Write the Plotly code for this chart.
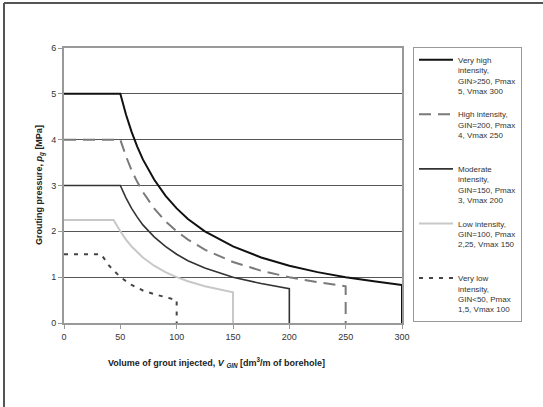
import plotly.graph_objects as go

# Data
v_very_high = [0, 50, 55, 60, 65, 70, 80, 90, 100, 110, 125, 150, 175, 200, 225, 250, 275, 300, 300]
p_very_high = [5, 5, 4.55, 4.17, 3.85, 3.57, 3.13, 2.78, 2.5, 2.27, 2.0, 1.67, 1.43, 1.25, 1.11, 1.0, 0.91, 0.83, 0]

v_high = [0, 50, 55, 60, 65, 70, 80, 90, 100, 110, 125, 150, 175, 200, 225, 250, 250]
p_high = [4, 4, 3.64, 3.33, 3.08, 2.86, 2.5, 2.22, 2.0, 1.82, 1.6, 1.33, 1.14, 1.0, 0.89, 0.8, 0]

v_moderate = [0, 50, 55, 60, 65, 70, 80, 90, 100, 110, 125, 150, 175, 200, 200]
p_moderate = [3, 3, 2.73, 2.5, 2.31, 2.14, 1.88, 1.67, 1.5, 1.36, 1.2, 1.0, 0.86, 0.75, 0]

v_low = [0, 44, 50, 55, 60, 65, 70, 80, 90, 100, 110, 125, 150, 150]
p_low = [2.25, 2.25, 2.0, 1.82, 1.67, 1.54, 1.43, 1.25, 1.11, 1.0, 0.91, 0.8, 0.67, 0]

v_very_low = [0, 33, 40, 50, 60, 70, 80, 90, 100, 100]
p_very_low = [1.5, 1.5, 1.25, 1.0, 0.83, 0.71, 0.63, 0.56, 0.5, 0]

series_names = [
    "Very high<br>intensity,<br>GIN&gt;250, Pmax<br>5, Vmax 300",
    "High intensity,<br>GIN=200, Pmax<br>4, Vmax 250<br> ",
    "Moderate<br>intensity,<br>GIN=150, Pmax<br>3, Vmax 200",
    "Low intensity,<br>GIN=100, Pmax<br>2,25, Vmax 150<br> ",
    "Very low<br>intensity,<br>GIN&lt;50, Pmax<br>1,5, Vmax 100",
]

x_ticks = [0, 50, 100, 150, 200, 250, 300]
y_ticks = [0, 1, 2, 3, 4, 5, 6]

styles = [
    dict(color="#111111", width=2, dash="solid"),
    dict(color="#7a7a7a", width=2, dash="12px,7px"),
    dict(color="#333333", width=1.6, dash="solid"),
    dict(color="#c8c8c8", width=2, dash="solid"),
    dict(color="#444444", width=2, dash="4px,6px"),
]

xs = [v_very_high, v_high, v_moderate, v_low, v_very_low]
ys = [p_very_high, p_high, p_moderate, p_low, p_very_low]

fig = go.Figure()
for i, (x, y, name, st) in enumerate(zip(xs, ys, series_names, styles)):
    fig.add_trace(go.Scatter(x=x, y=y, mode="lines", name=name, line=st,
                             legendgroup=f"g{i}"))

FONT = "Liberation Sans, Arial, sans-serif"
L, R, T, B = 64, 402, 48, 323
W, H = 543, 407
pw, ph = R - L, B - T

def px(xp):
    return (xp - L) / pw

def py(yp):
    return (B - yp) / ph

fig.update_layout(
    width=W, height=H,
    margin=dict(l=L, r=W - R, t=T, b=H - B),
    paper_bgcolor="white", plot_bgcolor="white",
    font=dict(family=FONT, size=9, color="#333333"),
    showlegend=True,
    legend=dict(
        x=px(413), y=py(47), xanchor="left", yanchor="top",
        bordercolor="#999999", borderwidth=1, bgcolor="white",
        font=dict(family=FONT, size=8, color="#333333"),
        valign="top", tracegroupgap=10, itemwidth=34,
        maxheight=380,
    ),
    xaxis=dict(
        range=[0, 300], tickvals=x_ticks, ticktext=[str(t) for t in x_ticks],
        showgrid=False, zeroline=False,
        showline=True, linecolor="#999999", linewidth=2, mirror=True,
        ticks="outside", ticklen=4, tickcolor="#999999",
        tickfont=dict(size=9, color="#333333"),
    ),
    yaxis=dict(
        range=[0, 6], tickvals=y_ticks, ticktext=[str(t) for t in y_ticks],
        showgrid=True, gridcolor="#555555", gridwidth=1, zeroline=False,
        showline=True, linecolor="#999999", linewidth=2, mirror=True,
        ticks="outside", ticklen=4, tickcolor="#999999",
        tickfont=dict(size=9, color="#333333"),
    ),
)

fig.add_annotation(
    text="<b>Volume of grout injected, <i>V</i> <sub><i>GIN</i></sub> [dm<sup>3</sup>/m of borehole]</b>",
    xref="paper", yref="paper", x=px(216), y=py(362),
    xanchor="center", yanchor="middle", showarrow=False,
    font=dict(family=FONT, size=9, color="#222222"),
)
fig.add_annotation(
    text="<b>Grouting pressure, <i>p</i><sub><i>g</i></sub> [MPa]</b>",
    xref="paper", yref="paper", x=px(40), y=py(185),
    xanchor="center", yanchor="middle", showarrow=False, textangle=-90,
    font=dict(family=FONT, size=9, color="#222222"),
)

# outer chart frame (top and left edges visible)
fig.add_shape(type="line", xref="paper", yref="paper",
              x0=px(4), y0=py(3), x1=px(543), y1=py(3),
              line=dict(color="#555555", width=2))
fig.add_shape(type="line", xref="paper", yref="paper",
              x0=px(4), y0=py(3), x1=px(4), y1=py(407),
              line=dict(color="#555555", width=2))

fig.write_html("out.html")
